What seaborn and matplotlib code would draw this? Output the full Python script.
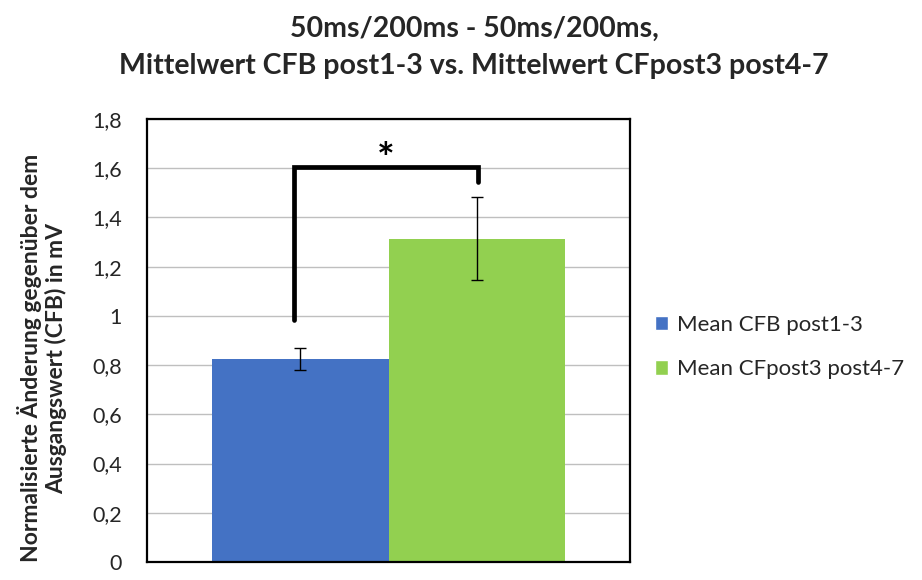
import numpy as np
import pandas as pd
import matplotlib
matplotlib.use("Agg")
import matplotlib.pyplot as plt
import seaborn as sns
from matplotlib.ticker import FuncFormatter

# ---- data ----
series = ["Mean CFB post1-3", "Mean CFpost3 post4-7"]
means = [0.826, 1.313]
errors = [0.044, 0.169]
colors = ["#4472C4", "#92D050"]
yticks = [0, 0.2, 0.4, 0.6, 0.8, 1.0, 1.2, 1.4, 1.6, 1.8]
title = "50ms/200ms - 50ms/200ms,\nMittelwert CFB post1-3 vs. Mittelwert CFpost3 post4-7"
ylabel = "Normalisierte Änderung gegenüber dem\nAusgangswert (CFB) in mV"
# significance bracket (data units)
bracket_top = 1.606
bracket_left_bottom = 0.985
bracket_right_bottom = 1.542
star_y = 1.58

sns.set_theme(style="white")
plt.rcParams["font.family"] = ["Lato", "DejaVu Sans"]

df = pd.DataFrame({"cat": [""] * len(series), "series": series, "value": means})

fig = plt.figure(figsize=(9.22, 5.8), dpi=100)
ax = fig.add_axes([147 / 922, 1 - 562 / 580, (630 - 147) / 922, (562 - 119) / 580])

sns.barplot(data=df, x="cat", y="value", hue="series", palette=colors,
            width=0.729, errorbar=None, saturation=1, ax=ax, zorder=2)

# bar centers from drawn patches
bars = [p for p in ax.patches if p.get_height() > 0]
bars = sorted(bars, key=lambda p: p.get_x())
centers = [p.get_x() + p.get_width() / 2 for p in bars]
for p in bars:
    p.set_edgecolor("none")

ax.errorbar(centers, means, yerr=errors, fmt="none", ecolor="black",
            elinewidth=1, capsize=4.5, capthick=1, zorder=3)

# significance bracket
xl = centers[0] - 0.013
xr = centers[1] + 0.003
ax.plot([xl, xl, xr, xr],
        [bracket_left_bottom, bracket_top, bracket_top, bracket_right_bottom],
        color="black", lw=3.4, solid_joinstyle="miter", zorder=4)
ax.text((xl + xr) / 2, star_y, "*", ha="center", va="baseline",
        fontsize=30, fontweight="bold", color="black")

ax.set_ylim(0, 1.8)
ax.set_xlim(-0.5, 0.5)
ax.set_yticks(yticks)
ax.yaxis.set_major_formatter(FuncFormatter(
    lambda v, p: ("%g" % round(v, 1)).replace(".", ",")))
ax.tick_params(axis="y", length=0, pad=18, labelsize=15.5, labelcolor="#262626")
ax.tick_params(axis="x", length=0, labelbottom=False)
ax.set_xlabel("")
ax.set_ylabel(ylabel, fontsize=16.5, fontweight="bold", color="#262626",
              linespacing=1.15)
ax.yaxis.set_label_coords(-0.166, 0.46)
ax.grid(axis="y", color="#bfbfbf", lw=1, zorder=0)
ax.set_axisbelow(True)
for s in ax.spines.values():
    s.set_visible(True)
    s.set_color("black")
    s.set_linewidth(1.6)

handles, labels = ax.get_legend_handles_labels()
leg = ax.legend(handles, labels, loc="center left", bbox_to_anchor=(1.052, 0.485),
                frameon=False, fontsize=16, handlelength=0.6, handleheight=0.6,
                handletextpad=0.4, labelspacing=1.1, borderaxespad=0, borderpad=0)
for t in leg.get_texts():
    t.set_color("#262626")

fig.suptitle(title, x=474 / 922, y=0.972, fontsize=20.5, fontweight="bold",
             color="#262626", linespacing=1.5)

fig.savefig("out.png", dpi=100)
